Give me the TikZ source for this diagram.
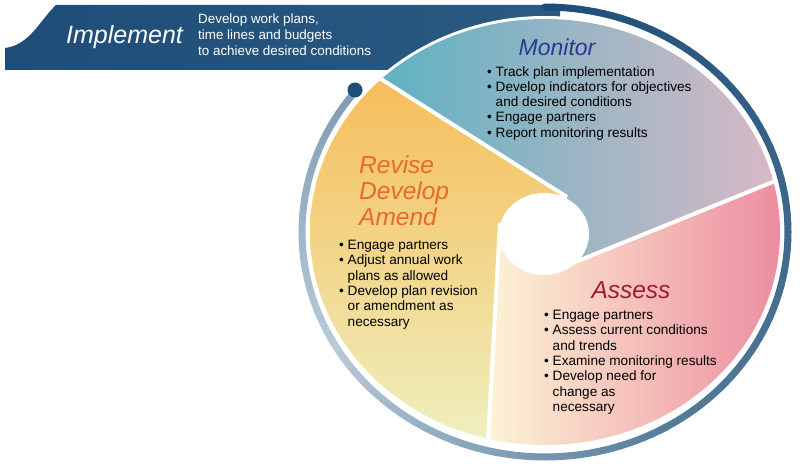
\documentclass[tikz,border=0pt]{standalone}
\usepackage{fontspec}
\setmainfont{Liberation Sans}
\begin{document}
\begin{tikzpicture}[x=1pt,y=-1pt,
  bul/.style={anchor=north west,align=left,font=\fontsize{13.6}{15.3}\selectfont,inner sep=0pt},
  ttl/.style={font=\itshape\fontsize{23}{26}\selectfont,inner sep=0pt,align=left},
  divider/.style={white,line width=4pt}]
\definecolor{navy}{HTML}{1D4D78}
\definecolor{navyR}{HTML}{2B5B82}
\definecolor{ringA}{HTML}{557C99}
\definecolor{ringB}{HTML}{B9CAD8}
\definecolor{ringC}{HTML}{7E9BB3}
\definecolor{monL}{HTML}{45B0C2}
\definecolor{monR}{HTML}{DDB9C6}
\definecolor{assL}{HTML}{FDF6D6}
\definecolor{assR}{HTML}{EC8A9E}
\definecolor{revT}{HTML}{F6BB55}
\definecolor{revB}{HTML}{EEF2C4}
\useasboundingbox (0,0) rectangle (800,470);
% banner
\shade[left color=navy,right color=navyR] (56,5) -- (560,5) -- (560,40) -- (400,70) -- (5,70) -- (5,48) .. controls (30,45) and (40,20) .. (56,5) -- cycle;
% ring
\foreach \t in {90,88,...,-60}{
  \pgfmathsetmacro{\m}{(\t+60)/150*100}
  \draw[line width=7pt,color=navy!\m!ringA,line cap=round] ({545+243*cos(\t)},{232-225*sin(\t)}) -- ({545+243*cos(\t-2)},{232-225*sin(\t-2)});}
\foreach \t in {-60,-62,...,-150}{
  \pgfmathsetmacro{\m}{(\t+150)/90*100}
  \draw[line width=7pt,color=ringA!\m!ringB,line cap=round] ({545+243*cos(\t)},{232-225*sin(\t)}) -- ({545+243*cos(\t-2)},{232-225*sin(\t-2)});}
\foreach \t in {-150,-152,...,-217}{
  \pgfmathsetmacro{\m}{(\t+219)/69*100}
  \draw[line width=7pt,color=ringB!\m!ringC,line cap=round] ({545+243*cos(\t)},{232-225*sin(\t)}) -- ({545+243*cos(\t-2)},{232-225*sin(\t-2)});}
\fill[navy] (355,90) circle (7.5);
% pie
\fill[white] (545,232) ellipse (238 and 216);
\begin{scope}
  \clip (545,232) ellipse (235 and 213);
  \begin{scope}
    \clip (224,-20) -- (567,197) -- (563,267) -- (900,130) -- (900,-100) -- (224,-100) -- cycle;
    \shade[left color=monL,right color=monR] (300,0) rectangle (790,300);
  \end{scope}
  \begin{scope}
    \clip (900,130) -- (563,267) -- (500,223) -- (482,560) -- (900,560) -- cycle;
    \shade[left color=assL,right color=assR] (480,150) rectangle (790,460);
  \end{scope}
  \begin{scope}
    \clip (224,-20) -- (567,197) -- (545,245) -- (500,223) -- (482,560) -- (0,560) -- (0,-20) -- cycle;
    \shade[top color=revT,bottom color=revB] (300,60) rectangle (560,460);
  \end{scope}
  \draw[divider] (370,72) -- (567,197);
  \draw[divider] (790,175) -- (563,267);
  \draw[divider] (500,223) -- (487,460);
\end{scope}
\fill[white] (544,234) ellipse (45 and 41);
% texts
\node[ttl,white,anchor=west,font=\itshape\fontsize{25}{27}\selectfont] (impl) at (66,37) {Implement};
\node[white,anchor=north west,align=left,inner sep=0pt,font=\fontsize{13.4}{16}\selectfont] (impltxt) at (198,14) {Develop work plans,\\time lines and budgets\\to achieve desired conditions};
\node[ttl,color={rgb,255:red,43;green,57;blue,144},anchor=center] (mon) at (557,47) {Monitor};
\node[bul] (montxt) at (487,66) {• Track plan implementation\\• Develop indicators for objectives\\\phantom{• }and desired conditions\\• Engage partners\\• Report monitoring results};
\node[ttl,color={rgb,255:red,232;green,105;blue,42},anchor=north west,font=\itshape\fontsize{24.5}{26}\selectfont] (rev) at (359,156) {Revise\\Develop\\Amend};
\node[bul] (revtxt) at (339,240) {• Engage partners\\• Adjust annual work\\\phantom{• }plans as allowed\\• Develop plan revision\\\phantom{• }or amendment as\\\phantom{• }necessary};
\node[ttl,color={rgb,255:red,158;green,27;blue,50},anchor=center,font=\itshape\fontsize{24.5}{26}\selectfont] (ass) at (631,290) {Assess};
\node[bul] (asstxt) at (544,310) {• Engage partners\\• Assess current conditions\\\phantom{• }and trends\\• Examine monitoring results\\• Develop need for\\\phantom{• }change as\\\phantom{• }necessary};
\end{tikzpicture}
\end{document}
